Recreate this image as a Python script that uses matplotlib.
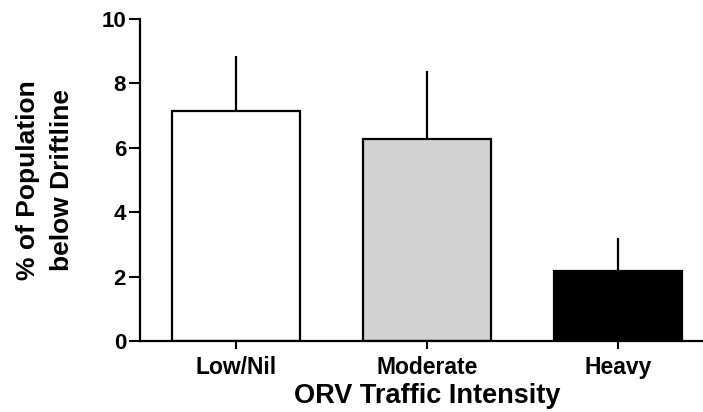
import matplotlib.pyplot as plt

categories = ['Low/Nil', 'Moderate', 'Heavy']
means = [7.15, 6.27, 2.17]
errors = [1.70, 2.12, 1.03]
colors = ['white', '#d3d3d3', 'black']

plt.rcParams['font.family'] = ['Liberation Sans', 'DejaVu Sans']
plt.rcParams['font.weight'] = 'bold'

fig = plt.figure(figsize=(7.03, 4.12), dpi=100)
# axis runs off the right edge like in the original
ax = fig.add_axes([140 / 703, 71 / 412, 574 / 703, 322 / 412])

x = list(range(len(categories)))
ax.bar(x, means, width=0.67, color=colors, edgecolor='black', linewidth=1.6,
       yerr=[[0] * len(errors), errors], capsize=0,
       error_kw={'elinewidth': 1.6, 'ecolor': 'black'}, zorder=2)

ax.set_xlim(-0.5, 2.5)
ax.set_ylim(0, 10)
ax.set_yticks([0, 2, 4, 6, 8, 10])
ax.set_xticks(x)
ax.set_xticklabels(categories, fontsize=16.5, fontweight='bold')
ax.tick_params(axis='y', labelsize=16, width=1.5, length=8, direction='out', pad=2)
ax.tick_params(axis='x', width=1.5, length=6, direction='out', pad=5)
for lbl in ax.get_yticklabels():
    lbl.set_fontweight('bold')

ax.spines['top'].set_visible(False)
ax.spines['right'].set_visible(False)
ax.spines['left'].set_linewidth(1.6)
ax.spines['bottom'].set_linewidth(1.6)

ax.set_xlabel('ORV Traffic Intensity', fontsize=19.5, fontweight='bold', labelpad=3)
ax.set_ylabel('% of Population\nbelow Driftline', fontsize=19, fontweight='bold',
              linespacing=1.5)
ax.yaxis.set_label_coords(-0.115, 0.5)

fig.savefig('out.png', dpi=100)
